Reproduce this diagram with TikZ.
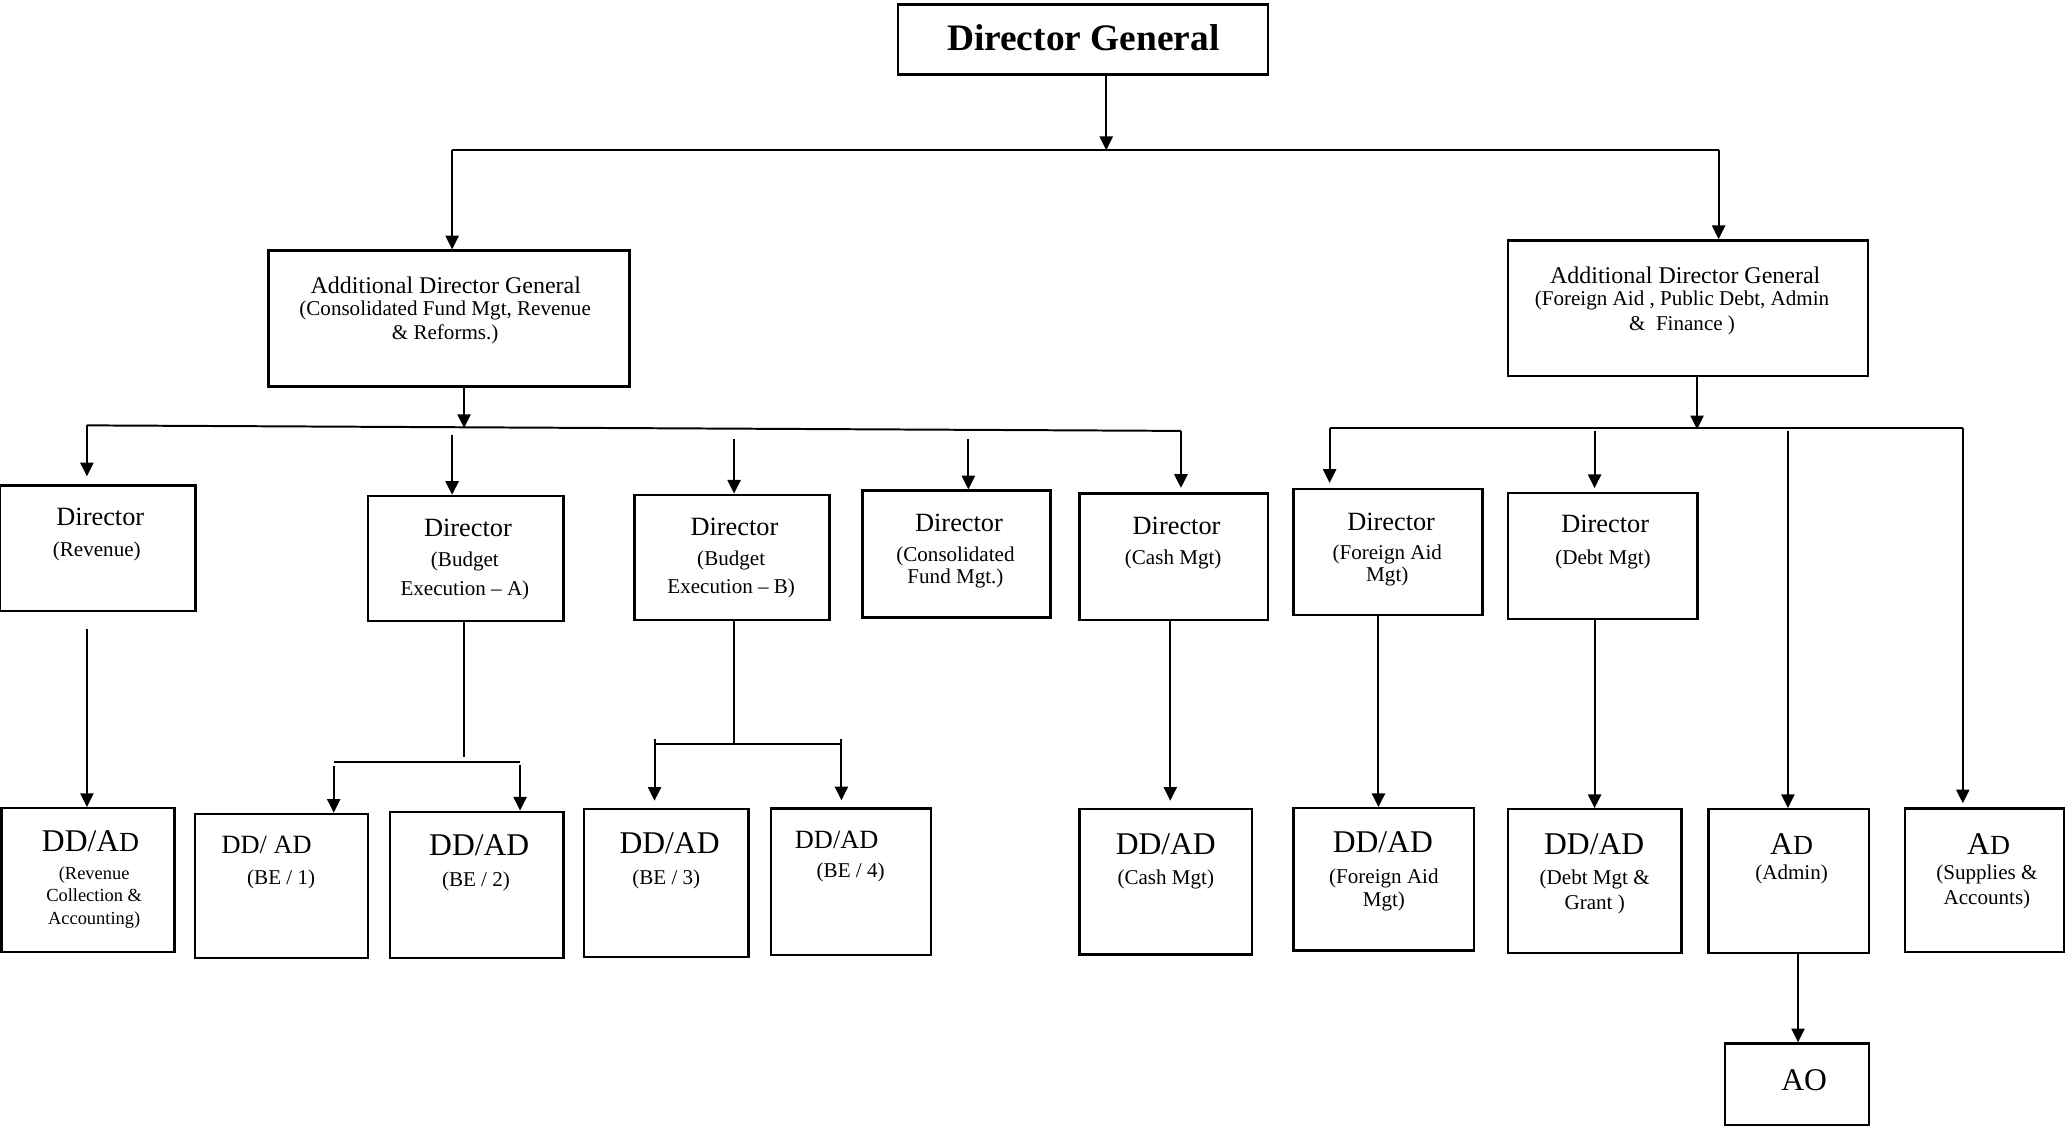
\documentclass[tikz,border=0pt]{standalone}
\usepackage{fontspec}
\setmainfont{Liberation Serif}
\usetikzlibrary{fit,arrows.meta}
\tikzset{
  box/.style={draw, line width=0.9pt, inner sep=0pt},
  ln/.style={line width=0.75pt},
  arr/.style={ln, -{Triangle[length=5.2pt,width=5pt]}},
  ttl/.style={inner sep=0pt, font=\fontsize{10}{12}\selectfont},
  big/.style={inner sep=0pt, font=\fontsize{12}{14}\selectfont},
  sub/.style={inner sep=0pt, align=center, font=\fontsize{8}{#1}\selectfont},
  sub/.default=9.6,
}
\newcommand{\smD}{{\fontsize{10.5}{12}\selectfont D}}
\begin{document}
\begin{tikzpicture}[x=0.5pt,y=-0.5pt]
\useasboundingbox (0,0) rectangle (1568,855);

% ---------- Director General ----------
\node[box, fit={(682,3.3) (962.7,56.7)}] (dg) {};
\node[inner sep=0pt, font=\fontsize{14.2}{16}\selectfont\bfseries] (dgT) at (822.5,28.6) {Director General};

\coordinate (j0) at (840,114);
\coordinate (jl) at (343.3,114);
\coordinate (jr) at (1305,114);
\draw[arr] (dg.south -| j0) -- (j0);
\draw[ln] (jl) -- (jr);

% ---------- ADG boxes ----------
\node[box, fit={(204,190.3) (478,293.4)}] (adg1) {};
\node[inner sep=0pt, font=\fontsize{9.1}{11}\selectfont] (adg1T) at (338.5,216.8) {Additional Director General};
\node[sub=9.1] (adg1S) at (338,244.9) {(Consolidated Fund Mgt, Revenue\\\& Reforms.)};

\node[box, fit={(1145,182.5) (1418.6,285.6)}] (adg2) {};
\node[inner sep=0pt, font=\fontsize{9.1}{11}\selectfont] (adg2T) at (1279.6,209) {Additional Director General};
\node[sub=9.15] (adg2S) at (1277.2,237.6) {(Foreign Aid , Public Debt, Admin\\\&~ Finance )};

\draw[arr] (jl) -- (jl |- adg1.north);
\draw[arr] (jr) -- (jr |- adg2.north);

% ---------- Left bus ----------
\coordinate (bl1) at (66,323);
\coordinate (bl2) at (896.7,327.2);
\coordinate (a1) at (352.4,325);
\draw[ln] (bl1) -- (bl2);
\draw[arr] (adg1.south -| a1) -- (a1);

% ---------- Right bus ----------
\coordinate (br1) at (1009.6,325);
\coordinate (br2) at (1490.4,325);
\coordinate (a2) at (1288.6,326);
\draw[ln] (br1) -- (br2);
\draw[arr] (adg2.south -| a2) -- (a2);

% ---------- Director row ----------
\node[box, fit={(0,368.6) (148.5,463.8)}] (drev) {};
\node[ttl] (drevT) at (76.2,392.3) {Director};
\node[sub] (drevS) at (73.5,418.9) {(Revenue)};

\node[box, fit={(279.5,376.6) (428,471.7)}] (dbea) {};
\node[ttl] (dbeaT) at (355.3,400.7) {Director};
\node[sub=11] (dbeaS) at (353,437) {(Budget\\Execution – A)};

\node[box, fit={(481.9,375.7) (629.9,470.8)}] (dbeb) {};
\node[ttl] (dbebT) at (557.7,400) {Director};
\node[sub=10.75] (dbebS) at (555.2,436) {(Budget\\Execution – B)};

\node[box, fit={(654.8,372.5) (797.6,469)}] (dcf) {};
\node[ttl] (dcfT) at (728.2,396.9) {Director};
\node[sub=8.6] (dcfS) at (725.5,430.8) {(Consolidated\\Fund Mgt.)};

\node[box, fit={(819.6,374.6) (962.7,470.6)}] (dcash) {};
\node[ttl] (dcashT) at (893.4,399.2) {Director};
\node[sub] (dcashS) at (890.8,424.5) {(Cash Mgt)};

\node[box, fit={(982.2,371.4) (1125.7,467)}] (dfa) {};
\node[ttl] (dfaT) at (1056.3,396.1) {Director};
\node[sub=8.6] (dfaS) at (1053.4,429.3) {(Foreign Aid\\Mgt)};

\node[box, fit={(1145.2,374.3) (1288.8,470)}] (ddebt) {};
\node[ttl] (ddebtT) at (1218.8,397.9) {Director};
\node[sub] (ddebtS) at (1217.2,424.5) {(Debt Mgt)};

% drops from left bus
\coordinate (s2) at (343.3,330);
\coordinate (s3) at (557.4,333.4);
\coordinate (s4) at (735.3,333.4);
\draw[arr, shorten >=3pt] (bl1) -- (bl1 |- drev.north);
\draw[arr] (s2) -- (s2 |- dbea.north);
\draw[arr] (s3) -- (s3 |- dbeb.north);
\draw[arr] (s4) -- (s4 |- dcf.north);
\draw[arr, shorten >=1.6pt] (bl2) -- (bl2 |- dcash.north);

% drops from right bus
\coordinate (s6) at (1210.8,327);
\coordinate (s7) at (1357.6,327);
\draw[arr, shorten >=1.9pt] (br1) -- (br1 |- dfa.north);
\draw[arr, shorten >=1.4pt] (s6) -- (s6 |- ddebt.north);

% ---------- Bottom row ----------
\node[box, fit={(1,613.7) (132.5,722.8)}] (ddrev) {};
\node[big] (ddrevT) at (68.8,638.7) {DD/A\smD};
\node[inner sep=0pt, align=center, font=\fontsize{7}{8.4}\selectfont] (ddrevS) at (71.5,681.5) {(Revenue\\Collection \&\\Accounting)};

\node[box, fit={(148,618) (279.5,727.4)}] (be1) {};
\node[ttl] (be1T) at (202.5,641.6) {DD/ AD};
\node[sub] (be1S) at (213.5,667.5) {(BE / 1)};

\node[box, fit={(296,616.4) (428,727.4)}] (be2) {};
\node[big] (be2T) at (363.9,642) {DD/AD};
\node[sub] (be2S) at (361.4,669) {(BE / 2)};

\node[box, fit={(443.4,614.3) (568.4,726.7)}] (be3) {};
\node[big] (be3T) at (508.4,640) {DD/AD};
\node[sub] (be3S) at (505.9,667.5) {(BE / 3)};

\node[box, fit={(585.4,614) (706.9,725.2)}] (be4) {};
\node[ttl] (be4T) at (635.3,637.5) {DD/AD};
\node[sub] (be4S) at (645.9,662.5) {(BE / 4)};

\node[box, fit={(819.6,614.5) (950.6,724.7)}] (ddcash) {};
\node[big] (ddcashT) at (885.2,640.9) {DD/AD};
\node[sub] (ddcashS) at (885.2,668) {(Cash Mgt)};

\node[box, fit={(982.2,613.7) (1119.3,721.8)}] (ddfa) {};
\node[big] (ddfaT) at (1050,639.6) {DD/AD};
\node[sub=8.85] (ddfaS) at (1050.8,675.8) {(Foreign Aid\\Mgt)};

\node[box, fit={(1145.2,614.5) (1276.8,723.5)}] (dddebt) {};
\node[big] (dddebtT) at (1210.5,640.9) {DD/AD};
\node[sub=9.25] (dddebtS) at (1210.9,677.3) {(Debt Mgt \&\\Grant )};

\node[box, fit={(1297.3,614.5) (1419.3,723.5)}] (adadm) {};
\node[big] (adadmT) at (1360.4,640.7) {A\smD};
\node[sub] (adadmS) at (1360.4,664.2) {(Admin)};

\node[box, fit={(1446.3,614) (1567,722.8)}] (adsup) {};
\node[big] (adsupT) at (1510,640.7) {A\smD};
\node[sub=9.5] (adsupS) at (1508.7,673.7) {(Supplies \&\\Accounts)};

\node[box, fit={(1309.8,792.3) (1419.3,854)}] (ao) {};
\node[big] (aoT) at (1369.9,820) {AO};

% ---------- connectors to bottom row ----------
\coordinate (r1) at (66,477.4);
\draw[arr] (r1) -- (r1 |- ddrev.north);

\coordinate (ha) at (352.4,575);
\coordinate (hal) at (253.4,578.3);
\coordinate (har) at (394.9,578.3);
\coordinate (hal2) at (253.4,581.8);
\coordinate (har2) at (394.9,580.5);
\draw[ln] (dbea.south -| ha) -- (ha);
\draw[ln] (hal) -- (har);
\draw[arr] (hal2) -- (hal2 |- be1.north);
\draw[arr] (har2) -- (har2 |- be2.north);

\coordinate (hb) at (557.4,564.6);
\coordinate (hbl) at (497,564.6);
\coordinate (hbr) at (638.9,564.6);
\coordinate (hbl2) at (497,561);
\coordinate (hbr2) at (638.9,561);
\draw[ln] (dbeb.south -| hb) -- (hb);
\draw[ln] (hbl) -- (hbr);
\draw[arr, shorten >=2.7pt] (hbl2) -- (hbl2 |- be3.north);
\draw[arr, shorten >=2.7pt] (hbr2) -- (hbr2 |- be4.north);

\coordinate (c1) at (888.6,500);
\draw[arr, shorten >=2.8pt] (dcash.south -| c1) -- (c1 |- ddcash.north);
\coordinate (f1) at (1046.7,500);
\draw[arr] (dfa.south -| f1) -- (f1 |- ddfa.north);
\coordinate (d1) at (1210.8,500);
\draw[arr] (ddebt.south -| d1) -- (d1 |- dddebt.north);
\draw[arr] (s7) -- (s7 |- adadm.north);
\draw[arr, shorten >=1.6pt] (br2) -- (br2 |- adsup.north);
\coordinate (o1) at (1365.3,760);
\draw[arr] (adadm.south -| o1) -- (o1 |- ao.north);
\end{tikzpicture}
\end{document}
